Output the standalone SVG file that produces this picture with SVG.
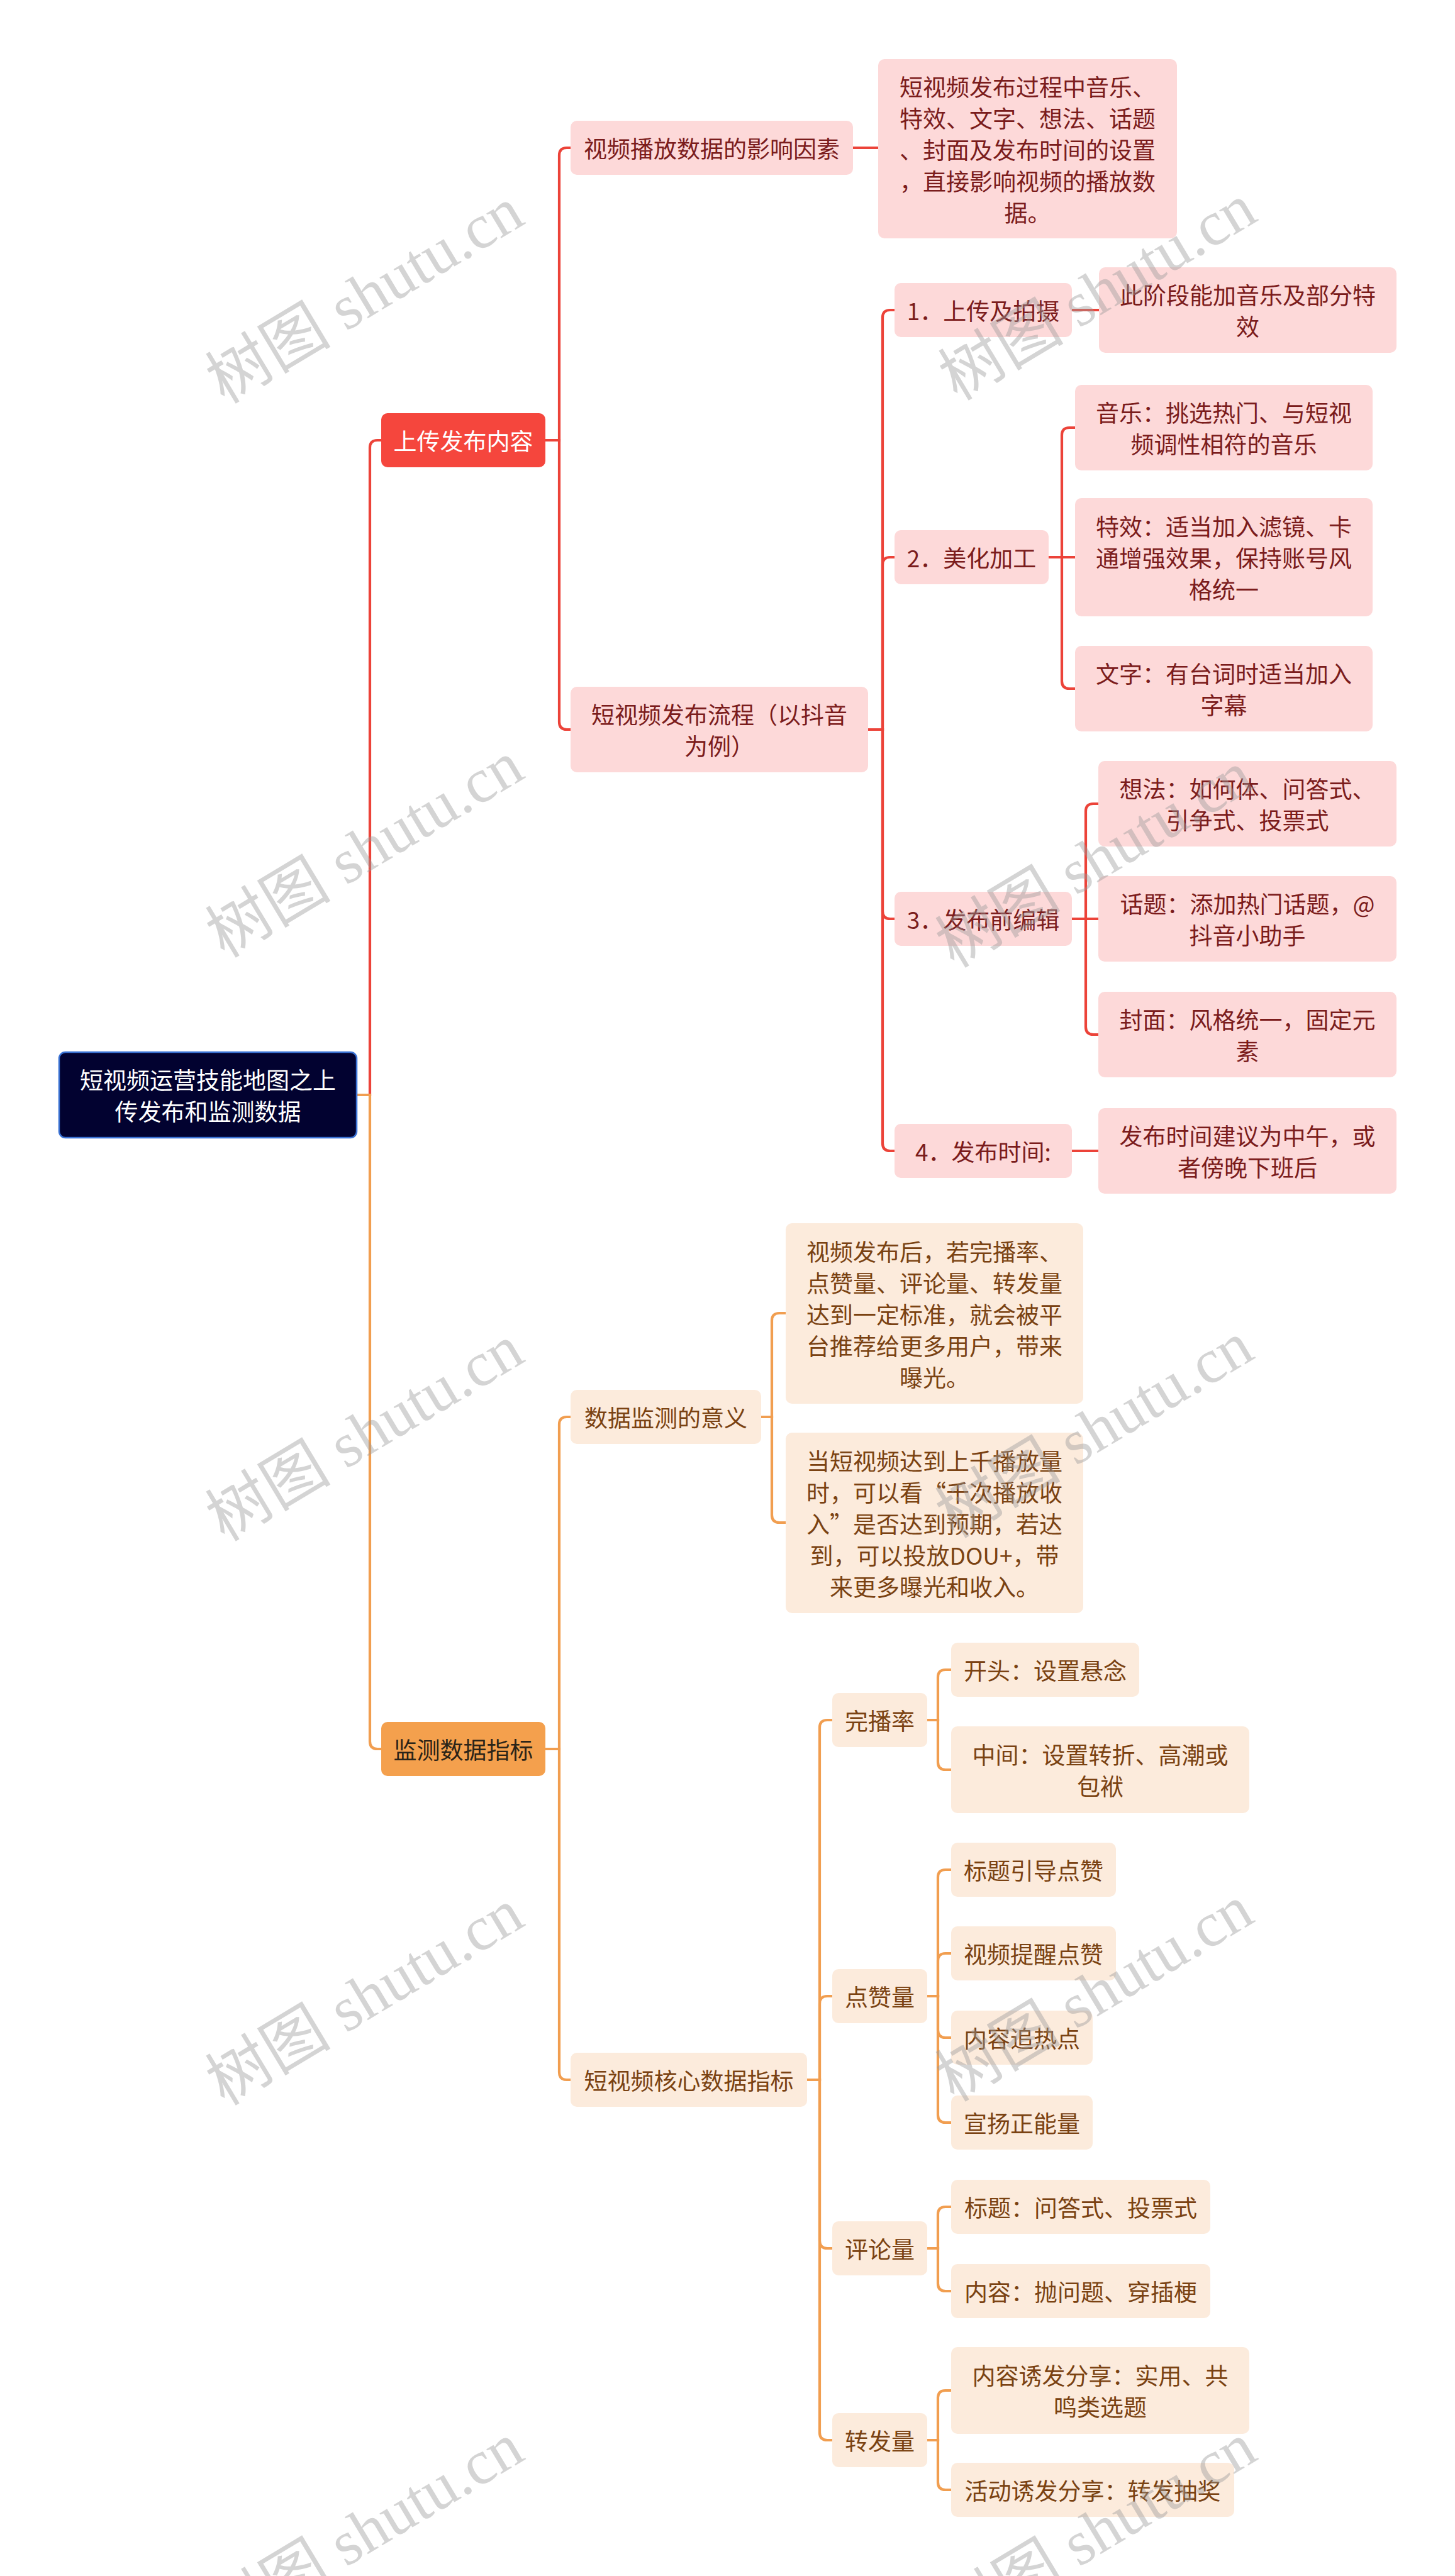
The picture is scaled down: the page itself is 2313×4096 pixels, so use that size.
<svg xmlns="http://www.w3.org/2000/svg" width="2313" height="4096" viewBox="0 0 2313 4096">
<style>
.t{font-family:"Noto Sans CJK SC","Noto Sans",sans-serif;font-size:37px;text-anchor:middle;dominant-baseline:central}
.r{fill:#7b1c1c}
.o{fill:#7a4212}
.w{fill:#ffffff}
.pk{fill:#fdd9d9}
.pc{fill:#fcebdc}
.cr{fill:none;stroke:#ec4339;stroke-width:4.2}
.co{fill:none;stroke:#f19e50;stroke-width:4.2}
.wm{font-family:"Liberation Serif","Noto Sans CJK SC",serif;font-size:100px;fill:#9a9a9a;opacity:0.42;text-anchor:middle;dominant-baseline:central}
</style>
<rect width="2313" height="4096" fill="#ffffff"/>
<g id="connectors">
<path class="cr" d="M567 1741 H588 V712 Q588 700 600 700 H606"/>
<path class="co" d="M567 1741 H588 V2769 Q588 2781 600 2781 H606"/>
<path class="cr" d="M867 700 H889 V247 Q889 235 901 235 H907"/>
<path class="cr" d="M867 700 H889 V1148 Q889 1160 901 1160 H907"/>
<path class="cr" d="M1356 235 H1396"/>
<path class="cr" d="M1380 1160 H1403 V505 Q1403 493 1415 493 H1422"/>
<path class="cr" d="M1380 1160 H1403 V898 Q1403 886 1415 886 H1422"/>
<path class="cr" d="M1380 1160 H1403 V1449 Q1403 1461 1415 1461 H1422"/>
<path class="cr" d="M1380 1160 H1403 V1818 Q1403 1830 1415 1830 H1422"/>
<path class="cr" d="M1704 493 H1747"/>
<path class="cr" d="M1667 886 H1688 V692 Q1688 680 1700 680 H1709"/>
<path class="cr" d="M1667 886 H1709"/>
<path class="cr" d="M1667 886 H1688 V1083 Q1688 1095 1700 1095 H1709"/>
<path class="cr" d="M1704 1461 H1726 V1290 Q1726 1278 1738 1278 H1746"/>
<path class="cr" d="M1704 1461 H1746"/>
<path class="cr" d="M1704 1461 H1726 V1633 Q1726 1645 1738 1645 H1746"/>
<path class="cr" d="M1704 1830 H1746"/>
<path class="co" d="M867 2781 H889 V2265 Q889 2253 901 2253 H907"/>
<path class="co" d="M867 2781 H889 V3295 Q889 3307 901 3307 H907"/>
<path class="co" d="M1210 2253 H1227 V2100 Q1227 2088 1239 2088 H1249"/>
<path class="co" d="M1210 2253 H1227 V2409 Q1227 2421 1239 2421 H1249"/>
<path class="co" d="M1283 3307 H1303 V2747 Q1303 2735 1315 2735 H1323"/>
<path class="co" d="M1283 3307 H1303 V3186 Q1303 3174 1315 3174 H1323"/>
<path class="co" d="M1283 3307 H1303 V3563 Q1303 3575 1315 3575 H1323"/>
<path class="co" d="M1283 3307 H1303 V3868 Q1303 3880 1315 3880 H1323"/>
<path class="co" d="M1474 2735 H1491 V2667 Q1491 2655 1503 2655 H1512"/>
<path class="co" d="M1474 2735 H1491 V2802 Q1491 2814 1503 2814 H1512"/>
<path class="co" d="M1474 3174 H1491 V2985 Q1491 2973 1503 2973 H1512"/>
<path class="co" d="M1474 3174 H1491 V3118 Q1491 3106 1503 3106 H1512"/>
<path class="co" d="M1474 3174 H1491 V3228 Q1491 3240 1503 3240 H1512"/>
<path class="co" d="M1474 3174 H1491 V3363 Q1491 3375 1503 3375 H1512"/>
<path class="co" d="M1474 3575 H1491 V3521 Q1491 3509 1503 3509 H1512"/>
<path class="co" d="M1474 3575 H1491 V3631 Q1491 3643 1503 3643 H1512"/>
<path class="co" d="M1474 3880 H1491 V3813 Q1491 3801 1503 3801 H1512"/>
<path class="co" d="M1474 3880 H1491 V3947 Q1491 3959 1503 3959 H1512"/>
</g>
<g id="root"><rect x="94" y="1673" width="473" height="136" rx="10" fill="#020230" stroke="#3a72d4" stroke-width="2.5"/><text class="t w" x="330.5" y="1716">短视频运营技能地图之上</text><text class="t w" x="330.5" y="1766">传发布和监测数据</text></g>
<g id="n-upload"><rect x="606" y="657" width="261" height="86" rx="10" fill="#f5463d"/><text class="t w" x="736.5" y="700">上传发布内容</text></g>
<g id="n-monitor"><rect x="606" y="2738" width="261" height="86" rx="10" fill="#f4a04d"/><text class="t" fill="#2b2418" x="736.5" y="2781">监测数据指标</text></g>
<g id="n-factors"><rect class="pk" x="907" y="192" width="449" height="86" rx="10"/><text class="t r" x="1131.5" y="235">视频播放数据的影响因素</text></g>
<g id="n-factors-desc"><rect class="pk" x="1396" y="94" width="475" height="285" rx="10"/><text class="t r" x="1633.5" y="136.5">短视频发布过程中音乐、</text><text class="t r" x="1633.5" y="186.5">特效、文字、想法、话题</text><text class="t r" x="1633.5" y="236.5">、封面及发布时间的设置</text><text class="t r" x="1633.5" y="286.5">，直接影响视频的播放数</text><text class="t r" x="1633.5" y="336.5">据。</text></g>
<g id="n-flow"><rect class="pk" x="907" y="1092" width="473" height="136" rx="10"/><text class="t r" x="1143.5" y="1135">短视频发布流程（以抖音</text><text class="t r" x="1143.5" y="1185">为例）</text></g>
<g id="n-step1"><rect class="pk" x="1422" y="450" width="282" height="86" rx="10"/><text class="t r" x="1563" y="493">1．上传及拍摄</text></g>
<g id="n-step1-desc"><rect class="pk" x="1747" y="425" width="473" height="136" rx="10"/><text class="t r" x="1983.5" y="468">此阶段能加音乐及部分特</text><text class="t r" x="1983.5" y="518">效</text></g>
<g id="n-step2"><rect class="pk" x="1422" y="843" width="245" height="86" rx="10"/><text class="t r" x="1544.5" y="886">2．美化加工</text></g>
<g id="n-music"><rect class="pk" x="1709" y="612" width="473" height="136" rx="10"/><text class="t r" x="1945.5" y="655">音乐：挑选热门、与短视</text><text class="t r" x="1945.5" y="705">频调性相符的音乐</text></g>
<g id="n-effect"><rect class="pk" x="1709" y="792" width="473" height="188" rx="10"/><text class="t r" x="1945.5" y="836">特效：适当加入滤镜、卡</text><text class="t r" x="1945.5" y="886">通增强效果，保持账号风</text><text class="t r" x="1945.5" y="936">格统一</text></g>
<g id="n-text"><rect class="pk" x="1709" y="1027" width="473" height="136" rx="10"/><text class="t r" x="1945.5" y="1070">文字：有台词时适当加入</text><text class="t r" x="1945.5" y="1120">字幕</text></g>
<g id="n-step3"><rect class="pk" x="1422" y="1418" width="282" height="86" rx="10"/><text class="t r" x="1563" y="1461">3．发布前编辑</text></g>
<g id="n-idea"><rect class="pk" x="1746" y="1210" width="474" height="136" rx="10"/><text class="t r" x="1983" y="1253">想法：如何体、问答式、</text><text class="t r" x="1983" y="1303">引争式、投票式</text></g>
<g id="n-topic"><rect class="pk" x="1746" y="1393" width="474" height="136" rx="10"/><text class="t r" x="1983" y="1436">话题：添加热门话题，@</text><text class="t r" x="1983" y="1486">抖音小助手</text></g>
<g id="n-cover"><rect class="pk" x="1746" y="1577" width="474" height="136" rx="10"/><text class="t r" x="1983" y="1620">封面：风格统一，固定元</text><text class="t r" x="1983" y="1670">素</text></g>
<g id="n-step4"><rect class="pk" x="1422" y="1787" width="282" height="86" rx="10"/><text class="t r" x="1563" y="1830">4．发布时间:</text></g>
<g id="n-time"><rect class="pk" x="1746" y="1762" width="474" height="136" rx="10"/><text class="t r" x="1983" y="1805">发布时间建议为中午，或</text><text class="t r" x="1983" y="1855">者傍晚下班后</text></g>
<g id="n-meaning"><rect class="pc" x="907" y="2210" width="303" height="86" rx="10"/><text class="t o" x="1058.5" y="2253">数据监测的意义</text></g>
<g id="n-meaning1"><rect class="pc" x="1249" y="1945" width="473" height="287" rx="10"/><text class="t o" x="1485.5" y="1988.5">视频发布后，若完播率、</text><text class="t o" x="1485.5" y="2038.5">点赞量、评论量、转发量</text><text class="t o" x="1485.5" y="2088.5">达到一定标准，就会被平</text><text class="t o" x="1485.5" y="2138.5">台推荐给更多用户，带来</text><text class="t o" x="1485.5" y="2188.5">曝光。</text></g>
<g id="n-meaning2"><rect class="pc" x="1249" y="2278" width="473" height="287" rx="10"/><text class="t o" x="1485.5" y="2321.5">当短视频达到上千播放量</text><text class="t o" x="1485.5" y="2371.5">时，可以看“千次播放收</text><text class="t o" x="1485.5" y="2421.5">入”是否达到预期，若达</text><text class="t o" x="1485.5" y="2471.5">到，可以投放DOU+，带</text><text class="t o" x="1485.5" y="2521.5">来更多曝光和收入。</text></g>
<g id="n-core"><rect class="pc" x="907" y="3264" width="376" height="86" rx="10"/><text class="t o" x="1095" y="3307">短视频核心数据指标</text></g>
<g id="n-completion"><rect class="pc" x="1323" y="2692" width="151" height="86" rx="10"/><text class="t o" x="1398.5" y="2735">完播率</text></g>
<g id="n-begin"><rect class="pc" x="1512" y="2612" width="299" height="86" rx="10"/><text class="t o" x="1661.5" y="2655">开头：设置悬念</text></g>
<g id="n-middle"><rect class="pc" x="1512" y="2745" width="474" height="138" rx="10"/><text class="t o" x="1749" y="2789">中间：设置转折、高潮或</text><text class="t o" x="1749" y="2839">包袱</text></g>
<g id="n-likes"><rect class="pc" x="1323" y="3131" width="151" height="86" rx="10"/><text class="t o" x="1398.5" y="3174">点赞量</text></g>
<g id="n-like1"><rect class="pc" x="1512" y="2930" width="262" height="86" rx="10"/><text class="t o" x="1643" y="2973">标题引导点赞</text></g>
<g id="n-like2"><rect class="pc" x="1512" y="3063" width="262" height="86" rx="10"/><text class="t o" x="1643" y="3106">视频提醒点赞</text></g>
<g id="n-like3"><rect class="pc" x="1512" y="3197" width="225" height="86" rx="10"/><text class="t o" x="1624.5" y="3240">内容追热点</text></g>
<g id="n-like4"><rect class="pc" x="1512" y="3332" width="225" height="86" rx="10"/><text class="t o" x="1624.5" y="3375">宣扬正能量</text></g>
<g id="n-comments"><rect class="pc" x="1323" y="3532" width="151" height="86" rx="10"/><text class="t o" x="1398.5" y="3575">评论量</text></g>
<g id="n-com1"><rect class="pc" x="1512" y="3466" width="412" height="86" rx="10"/><text class="t o" x="1718" y="3509">标题：问答式、投票式</text></g>
<g id="n-com2"><rect class="pc" x="1512" y="3600" width="412" height="86" rx="10"/><text class="t o" x="1718" y="3643">内容：抛问题、穿插梗</text></g>
<g id="n-shares"><rect class="pc" x="1323" y="3837" width="151" height="86" rx="10"/><text class="t o" x="1398.5" y="3880">转发量</text></g>
<g id="n-share1"><rect class="pc" x="1512" y="3732" width="474" height="138" rx="10"/><text class="t o" x="1749" y="3776">内容诱发分享：实用、共</text><text class="t o" x="1749" y="3826">鸣类选题</text></g>
<g id="n-share2"><rect class="pc" x="1512" y="3916" width="450" height="86" rx="10"/><text class="t o" x="1737" y="3959">活动诱发分享：转发抽奖</text></g>
<g id="watermark">
<text class="wm" transform="translate(580 470) rotate(-31)">树图 shutu.cn</text>
<text class="wm" transform="translate(1745 465) rotate(-31)">树图 shutu.cn</text>
<text class="wm" transform="translate(580 1351) rotate(-31)">树图 shutu.cn</text>
<text class="wm" transform="translate(1740 1367) rotate(-31)">树图 shutu.cn</text>
<text class="wm" transform="translate(580 2279) rotate(-31)">树图 shutu.cn</text>
<text class="wm" transform="translate(1740 2274) rotate(-31)">树图 shutu.cn</text>
<text class="wm" transform="translate(580 3176) rotate(-31)">树图 shutu.cn</text>
<text class="wm" transform="translate(1740 3170) rotate(-31)">树图 shutu.cn</text>
<text class="wm" transform="translate(580 4025) rotate(-31)">树图 shutu.cn</text>
<text class="wm" transform="translate(1745 4025) rotate(-31)">树图 shutu.cn</text>
</g>
</svg>
